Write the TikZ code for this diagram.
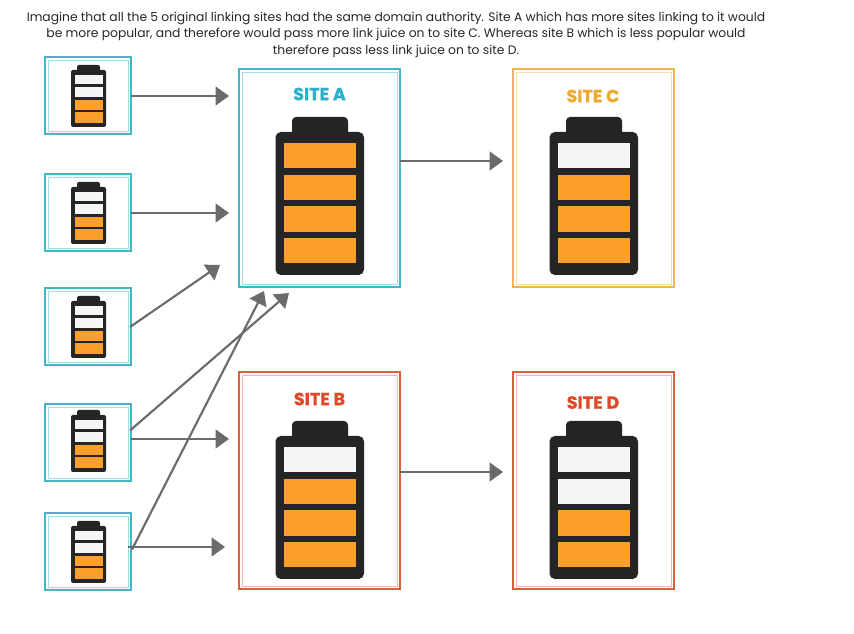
\documentclass[tikz,border=0pt]{standalone}
\usepackage{fontspec}
\setmainfont{Poppins}
\newfontfamily\heavyfont[FakeBold=0.6]{Poppins Bold}
\usetikzlibrary{arrows.meta}
\definecolor{teal}{HTML}{45B5C6}
\definecolor{tealin}{HTML}{A5DDE4}
\definecolor{gold}{HTML}{EFB551}
\definecolor{goldin}{HTML}{F6DDAE}
\definecolor{rust}{HTML}{DF5F3C}
\definecolor{rustin}{HTML}{F2B9A6}
\definecolor{tealtxt}{HTML}{2BB0C9}
\definecolor{goldtxt}{HTML}{EDAA2F}
\definecolor{rusttxt}{HTML}{DF4A26}
\definecolor{batt}{HTML}{252525}
\definecolor{full}{HTML}{FD9F2D}
\definecolor{empty}{HTML}{F3F6F5}
\definecolor{arrowgray}{HTML}{6B6B6D}
\tikzset{
  x=0.75pt,y=-0.75pt,
  link/.style={draw=arrowgray,line width=1.6pt,-{Triangle[length=10pt,width=14pt]}},
  framebox/.style={draw=#1,line width=1.15pt,inner sep=0pt,outer sep=0pt,fill=white},
  title/.style={font=\fontsize{9.24pt}{12.4pt}\selectfont,text=black!85,align=center,inner sep=0pt},
  sitelabel/.style={font=\fontsize{13.2pt}{15pt}\heavyfont,text=#1,inner sep=0pt}
}
% \framed{name}{left}{top}{right}{bottom}{colour}{inner colour}
\newcommand{\framed}[7]{%
  \node[framebox=#6,minimum width=#4*0.75pt-#2*0.75pt,minimum height=#5*0.75pt-#3*0.75pt,anchor=north west] (#1) at (#2,#3) {};
  \draw[#7,line width=0.7pt] ([shift={(3,3)}]#1.north west) rectangle ([shift={(-3,-3)}]#1.south east);
}
% \bigbatt{x offset}{y offset}{number of empty cells}
\newcommand{\bigbatt}[3]{%
  \begin{scope}[shift={(#1,#2)}]
    \fill[batt,rounded corners=3pt] (292,117) rectangle (348,140);
    \fill[batt,rounded corners=4pt] (275.5,132) rectangle (364,275);
    \foreach \i/\t in {1/143,2/175,3/206.5,4/238}{
      \pgfmathsetmacro{\ok}{\i<=#3 ? 1 : 0}
      \ifdim\ok pt=1pt \def\cc{empty}\else\def\cc{full}\fi
      \fill[\cc] (284,\t) rectangle (355.5,\t+25.5);
    }
  \end{scope}
}
% \smallbatt{y offset}
\newcommand{\smallbatt}[1]{%
  \begin{scope}[shift={(0,#1)}]
    \fill[batt,rounded corners=1.5pt] (77,65) rectangle (100,74);
    \fill[batt,rounded corners=1.5pt] (71,70) rectangle (106,127);
    \fill[empty] (74.5,75) rectangle (102.5,84.5);
    \fill[empty] (74.5,87.5) rectangle (102.5,97);
    \fill[full] (74.5,100) rectangle (102.5,110);
    \fill[full] (74.5,112.5) rectangle (102.5,123);
  \end{scope}
}
\begin{document}
\begin{tikzpicture}
\useasboundingbox (0,0) rectangle (854,634);
\fill[white] (0,0) rectangle (854,634);
\node[title] (heading) at (396,34.5) {Imagine that all the 5 original linking sites had the same domain authority. Site A which has more sites linking to it would\\be more popular, and therefore would pass more link juice on to site C. Whereas site B which is less popular would\\therefore pass less link juice on to site D.};

\framed{s1}{45}{57}{131}{134}{teal}{tealin}
\framed{s2}{45}{174}{131}{251}{teal}{tealin}
\framed{s3}{45}{288}{131}{365}{teal}{tealin}
\framed{s4}{45}{404}{131}{481}{teal}{tealin}
\framed{s5}{45}{513}{131}{590}{teal}{tealin}
\smallbatt{0}\smallbatt{117}\smallbatt{231}\smallbatt{345}\smallbatt{456}

\framed{siteA}{239}{69}{400}{287}{teal}{tealin}
\framed{siteC}{513}{69}{674}{287}{gold}{goldin}
\framed{siteB}{239}{372}{400}{589}{rust}{rustin}
\framed{siteD}{513}{372}{674}{589}{rust}{rustin}
\bigbatt{0}{0}{0}
\bigbatt{274}{0}{1}
\bigbatt{0}{304}{1}
\bigbatt{274}{304}{2}
\node[sitelabel=tealtxt] (la) at (319.5,94) {SITE A};
\node[sitelabel=goldtxt] (lc) at (593,96) {SITE C};
\node[sitelabel=rusttxt] (lb) at (319.5,399) {SITE B};
\node[sitelabel=rusttxt] (ld) at (593,402.5) {SITE D};

\coordinate (e1) at (229,96);
\coordinate (e2) at (229,213);
\coordinate (e3) at (220,265);
\coordinate (e4a) at (289,293);
\coordinate (e4b) at (229,439);
\coordinate (e5a) at (264,291);
\coordinate (e5b) at (225,547);
\coordinate (e6) at (503,161);
\coordinate (e7) at (503,472);
\draw[link] (s1.east |- e1) -- (e1);
\draw[link] (s2.east |- e2) -- (e2);
\draw[link] (s3.east) ++(-1,0.5) -- (e3);
\draw[link] (s4.east) ++(-1,-12) -- (e4a);
\draw[link] (s4.east |- e4b) -- (e4b);
\draw[link] (s5.east) ++(1,-2) -- (e5a);
\draw[link] (s5.east |- e5b) ++(-3,0) -- (e5b);
\draw[link] (siteA.east |- e6) -- (e6);
\draw[link] (siteB.east |- e7) -- (e7);
\end{tikzpicture}
\end{document}
